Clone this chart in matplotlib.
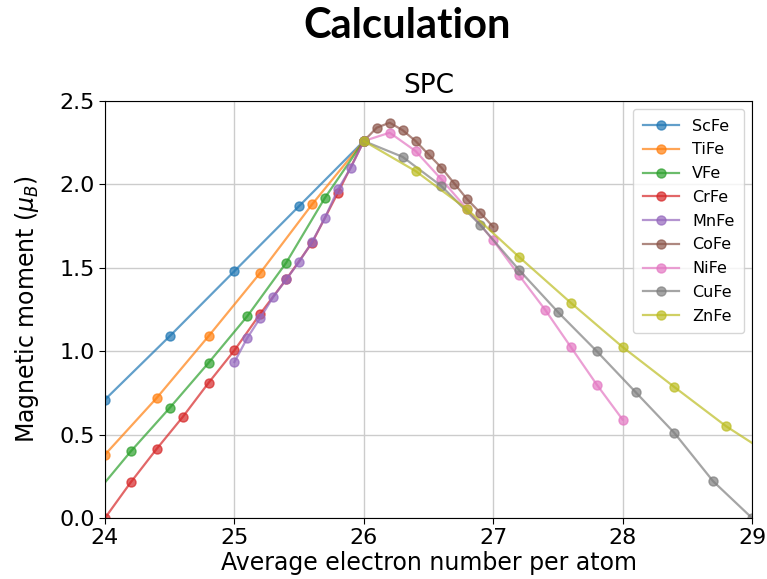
import matplotlib
matplotlib.use("Agg")
import matplotlib.pyplot as plt

# ---- data ----
sc_x = [24.0, 24.5, 25.0, 25.5, 26.0]
sc_y = [0.71, 1.09, 1.48, 1.87, 2.26]

ti_x = [24.0, 24.4, 24.8, 25.2, 25.6, 26.0]
ti_y = [0.38, 0.72, 1.09, 1.47, 1.88, 2.26]

v_x = [23.9, 24.2, 24.5, 24.8, 25.1, 25.4, 25.7, 26.0]
v_y = [0.12, 0.40, 0.66, 0.93, 1.21, 1.53, 1.92, 2.26]

cr_x = [24.0, 24.2, 24.4, 24.6, 24.8, 25.0, 25.2, 25.4, 25.6, 25.8, 26.0]
cr_y = [0.00, 0.215, 0.415, 0.605, 0.81, 1.005, 1.225, 1.43, 1.65, 1.95, 2.26]

mn_x = [25.0, 25.1, 25.2, 25.3, 25.4, 25.5, 25.6, 25.7, 25.8, 25.9, 26.0]
mn_y = [0.935, 1.08, 1.20, 1.325, 1.43, 1.535, 1.655, 1.80, 1.97, 2.10, 2.26]

co_x = [26.0, 26.1, 26.2, 26.3, 26.4, 26.5, 26.6, 26.7, 26.8, 26.9, 27.0]
co_y = [2.26, 2.34, 2.37, 2.325, 2.26, 2.18, 2.10, 2.005, 1.91, 1.83, 1.745]

ni_x = [26.0, 26.2, 26.4, 26.6, 26.8, 27.0, 27.2, 27.4, 27.6, 27.8, 28.0]
ni_y = [2.26, 2.31, 2.20, 2.03, 1.85, 1.665, 1.455, 1.25, 1.025, 0.80, 0.59]

cu_x = [26.0, 26.3, 26.6, 26.9, 27.2, 27.5, 27.8, 28.1, 28.4, 28.7, 29.0]
cu_y = [2.26, 2.165, 1.99, 1.757, 1.487, 1.235, 1.00, 0.755, 0.51, 0.22, 0.0]

zn_x = [26.0, 26.4, 26.8, 27.2, 27.6, 28.0, 28.4, 28.8, 29.2]
zn_y = [2.26, 2.08, 1.85, 1.565, 1.29, 1.025, 0.785, 0.55, 0.35]

series = [
    ("ScFe", sc_x, sc_y),
    ("TiFe", ti_x, ti_y),
    ("VFe", v_x, v_y),
    ("CrFe", cr_x, cr_y),
    ("MnFe", mn_x, mn_y),
    ("CoFe", co_x, co_y),
    ("NiFe", ni_x, ni_y),
    ("CuFe", cu_x, cu_y),
    ("ZnFe", zn_x, zn_y),
]
colors = ["#1f77b4", "#ff7f0e", "#2ca02c", "#d62728", "#9467bd",
          "#8c564b", "#e377c2", "#7f7f7f", "#bcbd22"]

x_ticks = [24, 25, 26, 27, 28, 29]
y_ticks = [0.0, 0.5, 1.0, 1.5, 2.0, 2.5]

# ---- figure ----
W, H = 767, 579
fig = plt.figure(figsize=(W / 100, H / 100), dpi=100)
ax = fig.add_axes([105 / W, (H - 518) / H, 647 / W, 417 / H])

for (name, xs, ys), c in zip(series, colors):
    ax.plot(xs, ys, "-o", color=c, alpha=0.7, lw=1.6, ms=6.5, label=name)

ax.set_xlim(24, 29)
ax.set_ylim(0, 2.5)
ax.set_xticks(x_ticks)
ax.set_yticks(y_ticks)
ax.set_yticklabels([f"{v:.1f}" for v in y_ticks])
ax.tick_params(labelsize=16, length=4)
ax.grid(True, color="#cccccc", lw=1)
ax.set_axisbelow(True)

ax.set_xlabel("Average electron number per atom", fontsize=17, labelpad=2)
ax.set_ylabel(r"Magnetic moment ($\mu_B$)", fontsize=17, labelpad=13)
ax.set_title("SPC", fontsize=19, pad=6)

leg = ax.legend(loc="upper right", fontsize=11.5, handlelength=2.3,
                labelspacing=0.55, borderpad=0.6, handletextpad=0.8)

fig.text(0.531, 0.955, "Calculation", ha="center", va="center",
         fontsize=30, fontweight="bold", family=["Lato", "DejaVu Sans"])

fig.savefig("out.png", dpi=100)
